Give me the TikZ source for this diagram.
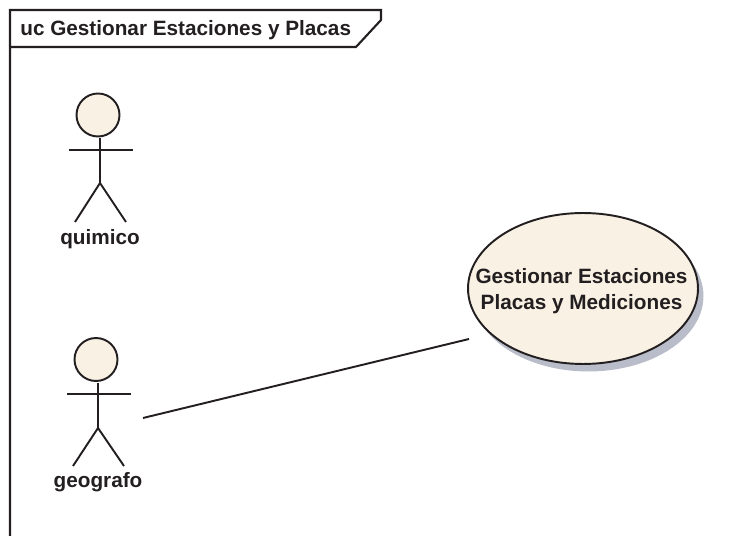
\documentclass[tikz,border=0pt]{standalone}
\usepackage{fontspec}
\setmainfont{Liberation Sans}
\usepackage{xcolor}
\definecolor{tinta}{HTML}{231F20}
\definecolor{crema}{HTML}{F8F1E4}
\definecolor{sombra}{HTML}{B9BDC9}
\usetikzlibrary{arrows, shapes, shadows}
\tikzset{
	cabeza/.style={circle, draw=tinta, fill=crema, line width=1.1pt, minimum size=0.86cm, inner sep=0pt},
	etiqueta/.style={font=\fontsize{11.8}{15}\selectfont\bfseries, text=tinta, align=center, inner sep=0pt},
	trazo/.style={-, draw=tinta, line width=1.1pt},
	marco/.style={-, draw=tinta, line width=1.2pt}
}

\begin{document}
\begin{tikzpicture}[x=0.02cm, y=-0.02cm]
			\useasboundingbox (0,0) rectangle (733,536);
			
			% marco
			\coordinate (A) at (10,536);
			\coordinate (B) at (10,47);
			\coordinate (C) at (10,10);
			\coordinate (D) at (381,10);
			\coordinate (E) at (381,20);
			\coordinate (F) at (356,47);
			\draw[marco](A) -- (C) -- (D) -- (E) -- (F) -- (B);
			\node[etiqueta, anchor=west](titulo) at (20,30) {uc Gestionar Estaciones y Placas};
			
			% quimico
			\node[cabeza](Q) at (98,115) {};
			\coordinate (Qa) at (100,138);
			\coordinate (Qb) at (100,183);
			\coordinate (Qc) at (69,150);
			\coordinate (Qd) at (133,150);
			\coordinate (Qe) at (75,222);
			\coordinate (Qf) at (126,222);
			\draw[trazo](Qa) -- (Qb);
			\draw[trazo](Qc) -- (Qd);
			\draw[trazo](Qe) -- (Qb) -- (Qf);
			\node[etiqueta](quimico) at (100,239) {quimico};
			
			% geografo
			\node[cabeza](G) at (96,359.5) {};
			\coordinate (Ga) at (98,383);
			\coordinate (Gb) at (98,428);
			\coordinate (Gc) at (67,394);
			\coordinate (Gd) at (131,394);
			\coordinate (Ge) at (73,466);
			\coordinate (Gf) at (124,466);
			\draw[trazo](Ga) -- (Gb);
			\draw[trazo](Gc) -- (Gd);
			\draw[trazo](Ge) -- (Gb) -- (Gf);
			\node[etiqueta](geografo) at (98,482.5) {geografo};
			
			% caso de uso
			\node[ellipse, draw=tinta, fill=crema, line width=1.1pt, inner sep=0pt,
				minimum width=4.6cm, minimum height=3.02cm,
				drop shadow={shadow xshift=0.11cm, shadow yshift=-0.15cm, opacity=1, fill=sombra}](U) at (583,288.5) {};
			\node[etiqueta, font=\fontsize{11.8}{14.7}\selectfont\bfseries](texto) at (581.5,291.5) {Gestionar Estaciones\\Placas y Mediciones};
			
			\coordinate (Ga1) at (143,418);
			\coordinate (Ub) at (469,339);
			\draw[trazo](Ga1) -- (Ub);
		\end{tikzpicture}
\end{document}
